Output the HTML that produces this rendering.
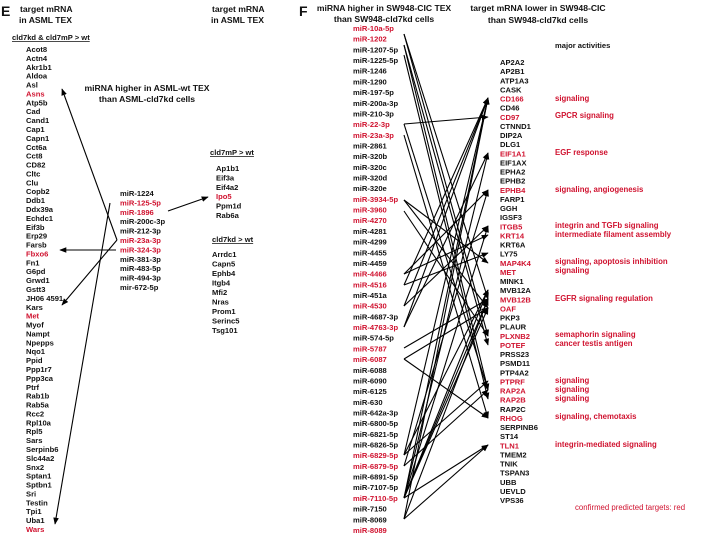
<!DOCTYPE html>
<html><head><meta charset="utf-8"><style>
html,body{margin:0;padding:0;background:#fff;}
svg{display:block;font-family:"Liberation Sans",Arial,sans-serif;font-weight:bold;}
.k{font-size:7.6px;fill:#111;}
.r{font-size:7.6px;fill:#d0122f;}
.h{font-size:8.6px;fill:#111;}
.a{font-size:7.8px;fill:#d0122f;}
line{stroke:#000;stroke-width:1.1;}
</style></head><body>
<svg width="702" height="537" viewBox="0 0 702 537" xmlns="http://www.w3.org/2000/svg">
<defs><marker id="m" viewBox="0 0 10 10" refX="9" refY="5" markerWidth="7" markerHeight="7" orient="auto-start-reverse" markerUnits="userSpaceOnUse"><path d="M0,1 L10,5 L0,9 z" fill="#000"/></marker></defs>
<rect width="702" height="537" fill="#fff"/>
<!-- Panel E -->
<text x="1" y="16" style="font-size:14px" fill="#111">E</text>
<text x="20" y="12" class="h">target mRNA</text>
<text x="19" y="23" class="h">in ASML TEX</text>
<text x="212" y="12" class="h">target mRNA</text>
<text x="211" y="23" class="h">in ASML TEX</text>
<text x="12" y="40" class="k" text-decoration="underline">cld7kd &amp; cld7mP &gt; wt</text>
<text x="147" y="91" class="h" text-anchor="middle">miRNA higher in ASML-wt TEX</text>
<text x="147" y="102" class="h" text-anchor="middle">than ASML-cld7kd cells</text>
<g transform="translate(26,52)">
<text y="0" class="k">Acot8</text><text y="8.89" class="k">Actn4</text><text y="17.78" class="k">Akr1b1</text><text y="26.67" class="k">Aldoa</text><text y="35.56" class="k">Asl</text><text y="44.44" class="r">Asns</text><text y="53.33" class="k">Atp5b</text><text y="62.22" class="k">Cad</text><text y="71.11" class="k">Cand1</text><text y="80" class="k">Cap1</text><text y="88.89" class="k">Capn1</text><text y="97.78" class="k">Cct6a</text><text y="106.67" class="k">Cct8</text><text y="115.56" class="k">CD82</text><text y="124.44" class="k">Cltc</text><text y="133.33" class="k">Clu</text><text y="142.22" class="k">Copb2</text><text y="151.11" class="k">Ddb1</text><text y="160" class="k">Ddx39a</text><text y="168.89" class="k">Echdc1</text><text y="177.78" class="k">Eif3b</text><text y="186.67" class="k">Erp29</text><text y="195.56" class="k">Farsb</text><text y="204.44" class="r">Fbxo6</text><text y="213.33" class="k">Fn1</text><text y="222.22" class="k">G6pd</text><text y="231.11" class="k">Grwd1</text><text y="240" class="k">Gstt3</text><text y="248.89" class="k">JH06 4591</text><text y="257.78" class="k">Kars</text><text y="266.67" class="r">Met</text><text y="275.56" class="k">Myof</text><text y="284.44" class="k">Nampt</text><text y="293.33" class="k">Npepps</text><text y="302.22" class="k">Nqo1</text><text y="311.11" class="k">Ppid</text><text y="320" class="k">Ppp1r7</text><text y="328.89" class="k">Ppp3ca</text><text y="337.78" class="k">Ptrf</text><text y="346.67" class="k">Rab1b</text><text y="355.56" class="k">Rab5a</text><text y="364.44" class="k">Rcc2</text><text y="373.33" class="k">Rpl10a</text><text y="382.22" class="k">Rpl5</text><text y="391.11" class="k">Sars</text><text y="400" class="k">Serpinb6</text><text y="408.89" class="k">Slc44a2</text><text y="417.78" class="k">Snx2</text><text y="426.67" class="k">Sptan1</text><text y="435.56" class="k">Sptbn1</text><text y="444.44" class="k">Sri</text><text y="453.33" class="k">Testin</text><text y="462.22" class="k">Tpi1</text><text y="471.11" class="k">Uba1</text><text y="480" class="r">Wars</text>
</g>
<g transform="translate(120,196)">
<text y="0" class="k">miR-1224</text><text y="9.4" class="r">miR-125-5p</text><text y="18.8" class="r">miR-1896</text><text y="28.2" class="k">miR-200c-3p</text><text y="37.6" class="k">miR-212-3p</text><text y="47" class="r">miR-23a-3p</text><text y="56.4" class="r">miR-324-3p</text><text y="65.8" class="k">miR-381-3p</text><text y="75.2" class="k">miR-483-5p</text><text y="84.6" class="k">miR-494-3p</text><text y="94" class="k">mir-672-5p</text>
</g>
<text x="210" y="155" class="k" text-decoration="underline">cld7mP &gt; wt</text>
<g transform="translate(216,171)">
<text y="0" class="k">Ap1b1</text><text y="9.4" class="k">Eif3a</text><text y="18.8" class="k">Eif4a2</text><text y="28.2" class="r">Ipo5</text><text y="37.6" class="k">Ppm1d</text><text y="47" class="k">Rab6a</text>
</g>
<text x="212" y="242" class="k" text-decoration="underline">cld7kd &gt; wt</text>
<g transform="translate(212,257)">
<text y="0" class="k">Arrdc1</text><text y="9.5" class="k">Capn5</text><text y="19" class="k">Ephb4</text><text y="28.5" class="k">Itgb4</text><text y="38" class="k">Mfi2</text><text y="47.5" class="k">Nras</text><text y="57" class="k">Prom1</text><text y="66.5" class="k">Serinc5</text><text y="76" class="k">Tsg101</text>
</g>
<g>
<line x1="117" y1="240" x2="62" y2="89" marker-end="url(#m)"/>
<line x1="117" y1="240" x2="62" y2="305" marker-end="url(#m)"/>
<line x1="110" y1="203" x2="55" y2="524" marker-end="url(#m)"/>
<line x1="116" y1="250" x2="60" y2="250" marker-end="url(#m)"/>
<line x1="168" y1="211" x2="208" y2="197" marker-end="url(#m)"/>
</g>
<!-- Panel F -->
<text x="299" y="16" style="font-size:14px" fill="#111">F</text>
<text x="384" y="11" class="h" text-anchor="middle">miRNA higher in SW948-CIC TEX</text>
<text x="384" y="22" class="h" text-anchor="middle">than SW948-cld7kd cells</text>
<text x="538" y="11" class="h" text-anchor="middle">target mRNA lower in SW948-CIC</text>
<text x="538" y="23" class="h" text-anchor="middle">than SW948-cld7kd cells</text>
<g transform="translate(353,31)">
<text y="0" class="r">miR-10a-5p</text><text y="10.68" class="r">miR-1202</text><text y="21.36" class="k">miR-1207-5p</text><text y="32.04" class="k">miR-1225-5p</text><text y="42.72" class="k">miR-1246</text><text y="53.4" class="k">miR-1290</text><text y="64.08" class="k">miR-197-5p</text><text y="74.76" class="k">miR-200a-3p</text><text y="85.44" class="k">miR-210-3p</text><text y="96.12" class="r">miR-22-3p</text><text y="106.8" class="r">miR-23a-3p</text><text y="117.48" class="k">miR-2861</text><text y="128.16" class="k">miR-320b</text><text y="138.84" class="k">miR-320c</text><text y="149.52" class="k">miR-320d</text><text y="160.2" class="k">miR-320e</text><text y="170.88" class="r">miR-3934-5p</text><text y="181.56" class="r">miR-3960</text><text y="192.24" class="r">miR-4270</text><text y="202.92" class="k">miR-4281</text><text y="213.6" class="k">miR-4299</text><text y="224.28" class="k">miR-4455</text><text y="234.96" class="k">miR-4459</text><text y="245.64" class="r">miR-4466</text><text y="256.32" class="r">miR-4516</text><text y="267" class="k">miR-451a</text><text y="277.68" class="r">miR-4530</text><text y="288.36" class="k">miR-4687-3p</text><text y="299.04" class="r">miR-4763-3p</text><text y="309.72" class="k">miR-574-5p</text><text y="320.4" class="r">miR-5787</text><text y="331.08" class="r">miR-6087</text><text y="341.76" class="k">miR-6088</text><text y="352.44" class="k">miR-6090</text><text y="363.12" class="k">miR-6125</text><text y="373.8" class="k">miR-630</text><text y="384.48" class="k">miR-642a-3p</text><text y="395.16" class="k">miR-6800-5p</text><text y="405.84" class="k">miR-6821-5p</text><text y="416.52" class="k">miR-6826-5p</text><text y="427.2" class="r">miR-6829-5p</text><text y="437.88" class="r">miR-6879-5p</text><text y="448.56" class="k">miR-6891-5p</text><text y="459.24" class="k">miR-7107-5p</text><text y="469.92" class="r">miR-7110-5p</text><text y="480.6" class="k">miR-7150</text><text y="491.28" class="k">miR-8069</text><text y="501.96" class="r">miR-8089</text>
</g>
<g transform="translate(500,65)">
<text y="0" class="k">AP2A2</text><text y="9.125" class="k">AP2B1</text><text y="18.25" class="k">ATP1A3</text><text y="27.375" class="k">CASK</text><text y="36.5" class="r">CD166</text><text y="45.625" class="k">CD46</text><text y="54.75" class="r">CD97</text><text y="63.875" class="k">CTNND1</text><text y="73" class="k">DIP2A</text><text y="82.125" class="k">DLG1</text><text y="91.25" class="r">EIF1A1</text><text y="100.375" class="k">EIF1AX</text><text y="109.5" class="k">EPHA2</text><text y="118.625" class="k">EPHB2</text><text y="127.75" class="r">EPHB4</text><text y="136.875" class="k">FARP1</text><text y="146" class="k">GGH</text><text y="155.125" class="k">IGSF3</text><text y="164.25" class="r">ITGB5</text><text y="173.375" class="r">KRT14</text><text y="182.5" class="k">KRT6A</text><text y="191.625" class="k">LY75</text><text y="200.75" class="r">MAP4K4</text><text y="209.875" class="r">MET</text><text y="219" class="k">MINK1</text><text y="228.125" class="k">MVB12A</text><text y="237.25" class="r">MVB12B</text><text y="246.375" class="r">OAF</text><text y="255.5" class="k">PKP3</text><text y="264.625" class="k">PLAUR</text><text y="273.75" class="r">PLXNB2</text><text y="282.875" class="r">POTEF</text><text y="292" class="k">PRSS23</text><text y="301.125" class="k">PSMD11</text><text y="310.25" class="k">PTP4A2</text><text y="319.375" class="r">PTPRF</text><text y="328.5" class="r">RAP2A</text><text y="337.625" class="r">RAP2B</text><text y="346.75" class="k">RAP2C</text><text y="355.875" class="r">RHOG</text><text y="365" class="k">SERPINB6</text><text y="374.125" class="k">ST14</text><text y="383.25" class="r">TLN1</text><text y="392.375" class="k">TMEM2</text><text y="401.5" class="k">TNIK</text><text y="410.625" class="k">TSPAN3</text><text y="419.75" class="k">UBB</text><text y="428.875" class="k">UEVLD</text><text y="438" class="k">VPS36</text>
</g>
<text x="555" y="48" class="k">major activities</text>
<text x="555" y="101" class="a">signaling</text>
<text x="555" y="118" class="a">GPCR signaling</text>
<text x="555" y="155" class="a">EGF response</text>
<text x="555" y="192" class="a">signaling, angiogenesis</text>
<text x="555" y="228" class="a">integrin and TGFb signaling</text>
<text x="555" y="237" class="a">intermediate filament assembly</text>
<text x="555" y="264" class="a">signaling, apoptosis inhibition</text>
<text x="555" y="273" class="a">signaling</text>
<text x="555" y="301" class="a">EGFR signaling regulation</text>
<text x="555" y="337" class="a">semaphorin signaling</text>
<text x="555" y="346" class="a">cancer testis antigen</text>
<text x="555" y="383" class="a">signaling</text>
<text x="555" y="392" class="a">signaling</text>
<text x="555" y="401" class="a">signaling</text>
<text x="555" y="419" class="a">signaling, chemotaxis</text>
<text x="555" y="447" class="a">integrin-mediated signaling</text>
<text x="575" y="510" style="font-size:7.8px;font-weight:normal" fill="#d0122f">confirmed predicted targets: red</text>
<g>
<line x1="404" y1="34" x2="488" y2="336" marker-end="url(#m)"/>
<line x1="404" y1="34" x2="488" y2="299" marker-end="url(#m)"/>
<line x1="404" y1="45" x2="488" y2="390" marker-end="url(#m)"/>
<line x1="404" y1="45" x2="488" y2="345" marker-end="url(#m)"/>
<line x1="404" y1="55" x2="488" y2="399" marker-end="url(#m)"/>
<line x1="404" y1="124" x2="488" y2="117" marker-end="url(#m)"/>
<line x1="404" y1="124" x2="488" y2="390" marker-end="url(#m)"/>
<line x1="404" y1="135" x2="488" y2="418" marker-end="url(#m)"/>
<line x1="404" y1="200" x2="488" y2="263" marker-end="url(#m)"/>
<line x1="404" y1="200" x2="488" y2="308" marker-end="url(#m)"/>
<line x1="404" y1="211" x2="488" y2="336" marker-end="url(#m)"/>
<line x1="404" y1="274" x2="488" y2="235" marker-end="url(#m)"/>
<line x1="404" y1="274" x2="488" y2="190" marker-end="url(#m)"/>
<line x1="404" y1="285" x2="488" y2="98" marker-end="url(#m)"/>
<line x1="404" y1="285" x2="488" y2="253" marker-end="url(#m)"/>
<line x1="404" y1="306" x2="488" y2="98" marker-end="url(#m)"/>
<line x1="404" y1="306" x2="488" y2="226" marker-end="url(#m)"/>
<line x1="404" y1="327" x2="488" y2="153" marker-end="url(#m)"/>
<line x1="404" y1="327" x2="488" y2="98" marker-end="url(#m)"/>
<line x1="404" y1="348" x2="488" y2="299" marker-end="url(#m)"/>
<line x1="404" y1="359" x2="488" y2="308" marker-end="url(#m)"/>
<line x1="404" y1="359" x2="488" y2="418" marker-end="url(#m)"/>
<line x1="404" y1="455" x2="488" y2="290" marker-end="url(#m)"/>
<line x1="404" y1="455" x2="488" y2="381" marker-end="url(#m)"/>
<line x1="404" y1="455" x2="488" y2="98" marker-end="url(#m)"/>
<line x1="404" y1="466" x2="488" y2="390" marker-end="url(#m)"/>
<line x1="404" y1="466" x2="488" y2="190" marker-end="url(#m)"/>
<line x1="404" y1="498" x2="488" y2="98" marker-end="url(#m)"/>
<line x1="404" y1="498" x2="488" y2="153" marker-end="url(#m)"/>
<line x1="404" y1="498" x2="488" y2="226" marker-end="url(#m)"/>
<line x1="404" y1="498" x2="488" y2="290" marker-end="url(#m)"/>
<line x1="404" y1="498" x2="488" y2="299" marker-end="url(#m)"/>
<line x1="404" y1="498" x2="488" y2="308" marker-end="url(#m)"/>
<line x1="404" y1="498" x2="488" y2="445" marker-end="url(#m)"/>
<line x1="404" y1="519" x2="488" y2="299" marker-end="url(#m)"/>
<line x1="404" y1="519" x2="488" y2="445" marker-end="url(#m)"/>
<line x1="404" y1="519" x2="488" y2="98" marker-end="url(#m)"/>
</g>
</svg>
</body></html>
